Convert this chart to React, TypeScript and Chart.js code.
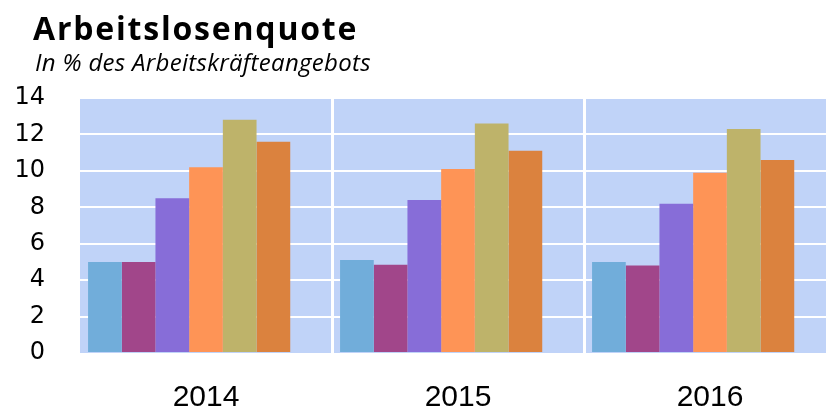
import React, { useEffect, useRef } from 'react';
import { Chart, registerables } from 'chart.js';

Chart.register(...registerables);

const categories = ['2014', '2015', '2016'];
const seriesLabels = ['Reihe 1', 'Reihe 2', 'Reihe 3', 'Reihe 4', 'Reihe 5', 'Reihe 6', 'Reihe 7'];
const series1 = [5.0, 5.1, 5.0];
const series2 = [5.0, 4.85, 4.8];
const series3 = [8.5, 8.4, 8.2];
const series4 = [10.2, 10.1, 9.9];
const series5 = [12.8, 12.6, 12.3];
const series6 = [11.6, 11.1, 10.6];
const series7 = [null, null, null];
const seriesColors = ['#71ADDA', '#A1468A', '#876DD8', '#FE9456', '#BEB36A', '#DB823E', '#999999'];
const yMin = 0;
const yMax = 14;
const yStep = 2;

const plotBg = {
  id: 'plotBg',
  beforeDraw(chart: any) {
    const { ctx, chartArea } = chart;
    if (!chartArea) return;
    ctx.save();
    ctx.fillStyle = '#C0D3F8';
    ctx.fillRect(chartArea.left, chartArea.top, chartArea.right - chartArea.left, chartArea.bottom - chartArea.top);
    ctx.restore();
  },
};

export default function App() {
  const canvasRef = useRef<HTMLCanvasElement | null>(null);

  useEffect(() => {
    const canvas = canvasRef.current;
    if (!canvas) return;
    const all = [series1, series2, series3, series4, series5, series6, series7];
    const chart = new Chart(canvas, {
      type: 'bar',
      data: {
        labels: categories,
        datasets: all.map((d, i) => ({
          label: seriesLabels[i],
          data: d as any,
          backgroundColor: seriesColors[i],
          borderWidth: 0,
          categoryPercentage: 0.936,
          barPercentage: 1,
        })),
      },
      options: {
        animation: false,
        responsive: false,
        devicePixelRatio: 1,
        layout: { padding: { top: 98, left: 0, right: 0, bottom: 0 } },
        plugins: {
          legend: { display: false },
          tooltip: { enabled: false },
          title: { display: false },
        },
        scales: {
          x: {
            offset: true,
            grid: {
              offset: true,
              drawTicks: false,
              lineWidth: 3,
              color: (c: any) => (c.index === 0 ? 'rgba(0,0,0,0)' : '#FFFFFF'),
            },
            border: { display: false },
            ticks: {
              font: { family: 'Liberation Sans', size: 30 },
              color: '#000000',
              padding: 27,
              maxRotation: 0,
            },
            afterFit(s: any) {
              s.height = 57;
            },
          },
          y: {
            min: yMin,
            max: yMax,
            grid: {
              drawTicks: false,
              lineWidth: 2,
              color: (c: any) => (c.tick && c.tick.value === 0 ? 'rgba(0,0,0,0)' : '#FFFFFF'),
            },
            border: { display: false },
            ticks: {
              stepSize: yStep,
              font: { family: 'DejaVu Sans', size: 24 },
              color: '#000000',
              padding: 35,
            },
            afterFit(s: any) {
              s.width = 80;
            },
          },
        },
      },
      plugins: [plotBg],
    });
    return () => chart.destroy();
  }, []);

  return (
    <div style={{ position: 'fixed', left: 0, top: 0, width: 826, height: 410, overflow: 'hidden', background: '#fff' }}>
      <canvas ref={canvasRef} width={836} height={410} style={{ position: 'absolute', left: 0, top: 0, width: 836, height: 410 }} />
      <div
        style={{
          position: 'absolute',
          left: 33,
          top: 12,
          fontFamily: "'Open Sans', sans-serif",
          fontWeight: 700,
          fontSize: 32,
          letterSpacing: 1.8,
          lineHeight: 1,
          color: '#000',
          whiteSpace: 'nowrap',
        }}
      >
        Arbeitslosenquote
      </div>
      <div
        style={{
          position: 'absolute',
          left: 35,
          top: 50,
          fontFamily: "'Open Sans', sans-serif",
          fontStyle: 'italic',
          fontSize: 24,
          letterSpacing: 0.3,
          lineHeight: 1,
          color: '#000',
          whiteSpace: 'nowrap',
        }}
      >
        In % des Arbeitskräfteangebots
      </div>
    </div>
  );
}
